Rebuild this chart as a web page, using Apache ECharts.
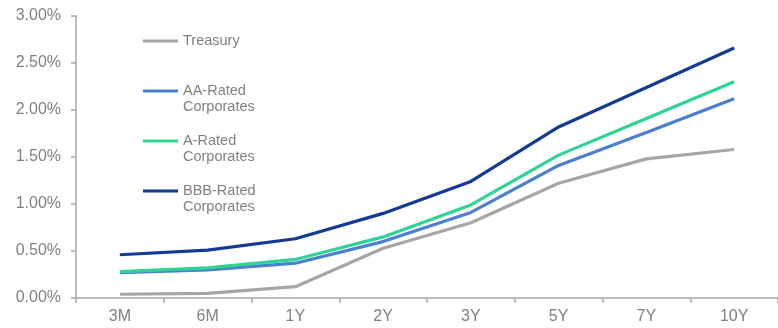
<!DOCTYPE html>
<html>
<head>
<meta charset="utf-8">
<script src="https://cdn.jsdelivr.net/npm/echarts@6/dist/echarts.min.js"></script>
<style>
html,body{margin:0;padding:0;background:#fff;}
#chart{width:778px;height:328px;}
</style>
</head>
<body>
<div id="chart"></div>
<script>
var categories = ['3M', '6M', '1Y', '2Y', '3Y', '5Y', '7Y', '10Y'];
var treasury = [0.04, 0.05, 0.12, 0.53, 0.80, 1.22, 1.48, 1.58];
var aaRated = [0.27, 0.30, 0.37, 0.60, 0.91, 1.41, 1.76, 2.12];
var aRated = [0.28, 0.32, 0.41, 0.65, 0.99, 1.52, 1.91, 2.30];
var bbbRated = [0.46, 0.51, 0.63, 0.90, 1.24, 1.82, 2.24, 2.66];
var yTicks = [0, 0.5, 1, 1.5, 2, 2.5, 3];

var seriesNames = ['Treasury', 'AA-Rated Corporates', 'A-Rated Corporates', 'BBB-Rated Corporates'];
var legendLabels = {
  'Treasury': '\u00a0\nTreasury\n\u00a0',
  'AA-Rated Corporates': '\u00a0\nAA-Rated\nCorporates',
  'A-Rated Corporates': '\u00a0\nA-Rated\nCorporates',
  'BBB-Rated Corporates': '\u00a0\nBBB-Rated\nCorporates'
};
var colors = ['#a6a6a6', '#4a80cf', '#2fd393', '#133b95'];
var font = '"Liberation Sans", Arial, sans-serif';
var textColor = '#808080';
var axisColor = '#a6a6a6';

var chart = echarts.init(document.getElementById('chart'));
var dataSets = [treasury, aaRated, aRated, bbbRated];
chart.setOption({
  animation: false,
  color: colors,
  grid: { left: 76, right: 0, top: 16, bottom: 30, containLabel: false },
  legend: {
    orient: 'vertical',
    left: 143,
    top: 17,
    padding: 0,
    itemGap: 2,
    itemWidth: 35,
    itemHeight: 3,
    icon: 'rect',
    data: seriesNames,
    formatter: function (n) { return legendLabels[n]; },
    textStyle: { color: textColor, fontSize: 14.5, fontFamily: font, lineHeight: 16 }
  },
  xAxis: {
    type: 'category',
    data: categories,
    boundaryGap: true,
    axisLine: { show: true, lineStyle: { color: axisColor, width: 1.5 } },
    axisTick: { show: true, length: 5, lineStyle: { color: axisColor, width: 1.5 } },
    axisLabel: { color: textColor, fontSize: 16, fontFamily: font, margin: 11 },
    splitLine: { show: false }
  },
  yAxis: {
    type: 'value',
    min: yTicks[0],
    max: yTicks[yTicks.length - 1],
    interval: 0.5,
    axisLine: { show: true, lineStyle: { color: axisColor, width: 1.5 } },
    axisTick: { show: true, length: 5, lineStyle: { color: axisColor, width: 1.5 } },
    axisLabel: {
      color: textColor, fontSize: 16, fontFamily: font, margin: 15,
      formatter: function (v) { return v.toFixed(2) + '%'; }
    },
    splitLine: { show: false }
  },
  series: seriesNames.map(function (name, i) {
    return {
      name: name,
      type: 'line',
      data: dataSets[i],
      symbol: 'none',
      lineStyle: { width: 3.2, color: colors[i] },
      itemStyle: { color: colors[i] }
    };
  })
});
</script>
</body>
</html>
